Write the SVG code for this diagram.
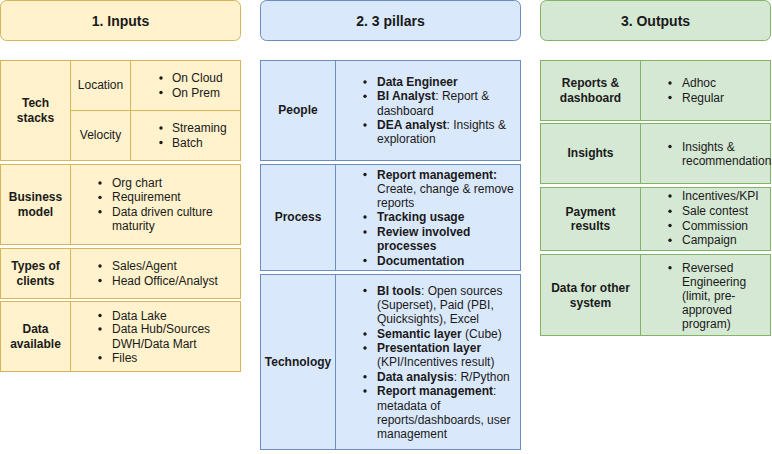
<svg xmlns="http://www.w3.org/2000/svg" width="772" height="454" viewBox="0 0 772 454">
<style>
text{font-family:"Liberation Sans",Arial,sans-serif;font-size:12px;fill:#1a1a1a}
.h{font-size:14px;font-weight:bold;text-anchor:middle}
.c{text-anchor:middle}
.b{font-weight:bold}
.y{fill:#fff2cc;stroke:#d6b656;stroke-width:1}
.u{fill:#dae8fc;stroke:#6c8ebf;stroke-width:1}
.g{fill:#d5e8d4;stroke:#82b366;stroke-width:1}
.ly{stroke:#d6b656;stroke-width:1;fill:none}
.lu{stroke:#6c8ebf;stroke-width:1;fill:none}
.lg{stroke:#82b366;stroke-width:1;fill:none}
circle{fill:#1a1a1a}
</style>
<rect width="772" height="454" fill="#ffffff"/>

<g id="inputs-header">
<rect class="y" x="0.5" y="0.5" width="240" height="40" rx="6"/>
<text class="h" x="120.5" y="26">1. Inputs</text>
</g>

<g id="tech-stacks">
<rect class="y" x="0.5" y="60.5" width="240" height="100"/>
<path class="ly" d="M70.5 60.5V160.5M130.5 60.5V160.5M70.5 110.5H240.5"/>
<text class="c b" x="35.5" y="107">Tech</text>
<text class="c b" x="35.5" y="121.5">stacks</text>
<text class="c" x="100.5" y="89">Location</text>
<text class="c" x="100.5" y="139">Velocity</text>
<circle cx="161" cy="78" r="1.7"/><text x="172" y="82">On Cloud</text>
<circle cx="161" cy="92.5" r="1.7"/><text x="172" y="96.5">On Prem</text>
<circle cx="161" cy="128" r="1.7"/><text x="172" y="132">Streaming</text>
<circle cx="161" cy="142.5" r="1.7"/><text x="172" y="146.5">Batch</text>
</g>

<g id="business-model">
<rect class="y" x="0.5" y="164.5" width="240" height="80"/>
<path class="ly" d="M70.5 164.5V244.5"/>
<text class="c b" x="35.5" y="201">Business</text>
<text class="c b" x="35.5" y="215.5">model</text>
<circle cx="100" cy="183" r="1.7"/><text x="112" y="187">Org chart</text>
<circle cx="100" cy="197.4" r="1.7"/><text x="112" y="201.4">Requirement</text>
<circle cx="100" cy="211.8" r="1.7"/><text x="112" y="215.8">Data driven culture</text>
<text x="112" y="230.2">maturity</text>
</g>

<g id="types-of-clients">
<rect class="y" x="0.5" y="248.5" width="240" height="50"/>
<path class="ly" d="M70.5 248.5V298.5"/>
<text class="c b" x="35.5" y="270">Types of</text>
<text class="c b" x="35.5" y="284.5">clients</text>
<circle cx="100" cy="266" r="1.7"/><text x="112" y="270">Sales/Agent</text>
<circle cx="100" cy="280.5" r="1.7"/><text x="112" y="284.5">Head Office/Analyst</text>
</g>

<g id="data-available">
<rect class="y" x="0.5" y="301.5" width="240" height="70"/>
<path class="ly" d="M70.5 301.5V371.5"/>
<text class="c b" x="35.5" y="333">Data</text>
<text class="c b" x="35.5" y="347.5">available</text>
<circle cx="100" cy="315.5" r="1.7"/><text x="112" y="319.5">Data Lake</text>
<circle cx="100" cy="329" r="1.7"/><text x="112" y="333">Data Hub/Sources</text>
<text x="112" y="347.5">DWH/Data Mart</text>
<circle cx="100" cy="357.7" r="1.7"/><text x="112" y="361.7">Files</text>
</g>

<g id="pillars-header">
<rect class="u" x="260.5" y="0.5" width="260" height="40" rx="6"/>
<text class="h" x="390.5" y="26">2. 3 pillars</text>
</g>

<g id="people">
<rect class="u" x="260.5" y="60.5" width="260" height="100"/>
<path class="lu" d="M335.5 60.5V160.5"/>
<text class="c b" x="298" y="114">People</text>
<circle cx="365" cy="82" r="1.7"/><text x="377" y="86"><tspan class="b">Data Engineer</tspan></text>
<circle cx="365" cy="96.3" r="1.7"/><text x="377" y="100.3"><tspan class="b">BI Analyst</tspan>: Report &amp;</text>
<text x="377" y="114.5">dashboard</text>
<circle cx="365" cy="125" r="1.7"/><text x="377" y="129"><tspan class="b">DEA analyst</tspan>: Insights &amp;</text>
<text x="377" y="143">exploration</text>
</g>

<g id="process">
<rect class="u" x="260.5" y="164.5" width="260" height="106"/>
<path class="lu" d="M335.5 164.5V270.5"/>
<text class="c b" x="298" y="221">Process</text>
<circle cx="365" cy="174.5" r="1.7"/><text x="377" y="178.5"><tspan class="b">Report management:</tspan></text>
<text x="377" y="193">Create, change &amp; remove</text>
<text x="377" y="207">reports</text>
<circle cx="365" cy="217" r="1.7"/><text x="377" y="221"><tspan class="b">Tracking usage</tspan></text>
<circle cx="365" cy="232" r="1.7"/><text x="377" y="236"><tspan class="b">Review involved</tspan></text>
<text x="377" y="250"><tspan class="b">processes</tspan></text>
<circle cx="365" cy="260.5" r="1.7"/><text x="377" y="264.5"><tspan class="b">Documentation</tspan></text>
</g>

<g id="technology">
<rect class="u" x="260.5" y="274.5" width="260" height="175"/>
<path class="lu" d="M335.5 274.5V449.5"/>
<text class="c b" x="298" y="366">Technology</text>
<circle cx="365" cy="290.5" r="1.7"/><text x="377" y="294.5"><tspan class="b">BI tools</tspan>: Open sources</text>
<text x="377" y="308.7">(Superset), Paid (PBI,</text>
<text x="377" y="323">Quicksights), Excel</text>
<circle cx="365" cy="334" r="1.7"/><text x="377" y="338"><tspan class="b">Semantic layer</tspan> (Cube)</text>
<circle cx="365" cy="348" r="1.7"/><text x="377" y="352"><tspan class="b">Presentation layer</tspan></text>
<text x="377" y="366">(KPI/Incentives result)</text>
<circle cx="365" cy="376.7" r="1.7"/><text x="377" y="380.7"><tspan class="b">Data analysis</tspan>: R/Python</text>
<circle cx="365" cy="391" r="1.7"/><text x="377" y="395"><tspan class="b">Report management</tspan>:</text>
<text x="377" y="409.5">metadata of</text>
<text x="377" y="423.7">reports/dashboards, user</text>
<text x="377" y="437.7">management</text>
</g>

<g id="outputs-header">
<rect class="g" x="540.5" y="0.5" width="230" height="40" rx="6"/>
<text class="h" x="655.5" y="26">3. Outputs</text>
</g>

<g id="reports-dashboard">
<rect class="g" x="540.5" y="60.5" width="230" height="60"/>
<path class="lg" d="M640.5 60.5V120.5"/>
<text class="c b" x="590.5" y="87">Reports &amp;</text>
<text class="c b" x="590.5" y="101.5">dashboard</text>
<circle cx="670" cy="83" r="1.7"/><text x="682" y="87">Adhoc</text>
<circle cx="670" cy="97.5" r="1.7"/><text x="682" y="101.5">Regular</text>
</g>

<g id="insights">
<rect class="g" x="540.5" y="123.5" width="230" height="60"/>
<path class="lg" d="M640.5 123.5V183.5"/>
<text class="c b" x="590.5" y="156.5">Insights</text>
<circle cx="670" cy="146.5" r="1.7"/><text x="682" y="150.5">Insights &amp;</text>
<text x="682" y="164.5">recommendation</text>
</g>

<g id="payment-results">
<rect class="g" x="540.5" y="187.5" width="230" height="63"/>
<path class="lg" d="M640.5 187.5V250.5"/>
<text class="c b" x="590.5" y="215.5">Payment</text>
<text class="c b" x="590.5" y="230">results</text>
<circle cx="670" cy="196" r="1.7"/><text x="682" y="200">Incentives/KPI</text>
<circle cx="670" cy="211.3" r="1.7"/><text x="682" y="215.3">Sale contest</text>
<circle cx="670" cy="225.5" r="1.7"/><text x="682" y="229.5">Commission</text>
<circle cx="670" cy="240.3" r="1.7"/><text x="682" y="244.3">Campaign</text>
</g>

<g id="data-for-other-system">
<rect class="g" x="540.5" y="254.5" width="230" height="81"/>
<path class="lg" d="M640.5 254.5V335.5"/>
<text class="c b" x="590.5" y="292">Data for other</text>
<text class="c b" x="590.5" y="306.5">system</text>
<circle cx="670" cy="267.7" r="1.7"/><text x="682" y="271.7">Reversed</text>
<text x="682" y="285.5">Engineering</text>
<text x="682" y="300">(limit, pre-</text>
<text x="682" y="314.3">approved</text>
<text x="682" y="328.3">program)</text>
</g>

<g id="connectors"></g>
</svg>
